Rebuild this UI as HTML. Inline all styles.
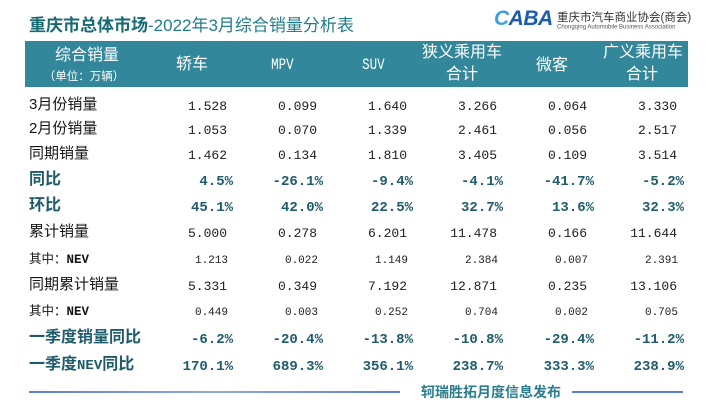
<!DOCTYPE html>
<html><head><meta charset="utf-8">
<style>
html,body{margin:0;padding:0;background:#fff;}
body{width:713px;height:406px;position:relative;overflow:hidden;font-family:"Liberation Sans","Noto Sans CJK SC",sans-serif;}
.a{position:absolute;white-space:nowrap;}
.band{position:absolute;left:25px;top:41px;width:663px;height:46px;background:#33879a;}
.h{position:absolute;color:#fff;font-family:"Liberation Sans","Noto Sans CJK SC",sans-serif;font-size:16px;line-height:20px;height:20px;text-align:center;width:120px;white-space:nowrap;}
.hm{font-family:"Liberation Mono",monospace;font-size:16px;display:inline-block;transform:scaleX(0.78);}
.row{position:absolute;left:0;width:713px;height:20px;}
.lab{position:absolute;left:29px;top:-1px;height:20px;line-height:20px;font-family:"Liberation Sans","Noto Sans CJK SC",sans-serif;font-size:15px;color:#151515;white-space:nowrap;}
.lb{font-size:16px;font-weight:bold;color:#1e5b6b;}
.ls{font-size:12.5px;}
.n{position:absolute;top:1px;height:20px;line-height:20px;font-family:"Liberation Mono",monospace;font-size:13px;color:#202020;white-space:nowrap;}
.p .n{font-size:14px;font-weight:bold;color:#1e5b6b;}
.s .n{font-size:11px;}
.r .c1{right:486px}.r .c2{right:396px}.r .c3{right:306px}.r .c4{right:216px}.r .c5{right:126px}.r .c6{right:36px}
.p .c1{right:480px}.p .c2{right:390px}.p .c3{right:300px}.p .c4{right:210px}.p .c5{right:119px}.p .c6{right:29px}
.s .c1{right:485px}.s .c2{right:395px}.s .c3{right:305px}.s .c4{right:215px}.s .c5{right:125px}.s .c6{right:35px}
.mono{font-family:"Liberation Mono",monospace;font-weight:bold;}
</style></head><body>

<!-- Title -->
<div class="a" style="left:29px;top:14px;height:24px;line-height:24px;font-size:17px;color:#1b6f7a;font-family:'Liberation Sans','Noto Sans CJK SC',sans-serif;"><b style="color:#176a74">重庆市总体市场</b><span style="color:#1f7e8a">-2022年3月综合销量分析表</span></div>

<!-- Logo -->
<div class="a" style="left:494px;top:7px;height:24px;line-height:24px;font-size:21px;font-weight:bold;font-style:italic;font-family:'Liberation Sans',sans-serif;letter-spacing:-0.5px;"><span style="color:#3c9fe0">C</span><span style="color:#1d5cab">ABA</span></div>
<div class="a" style="left:557px;top:11px;height:14px;line-height:14px;font-size:11.5px;color:#333;font-family:'Liberation Sans','Noto Sans CJK SC',sans-serif;">重庆市汽车商业协会(商会)</div>
<div class="a" style="left:557px;top:25px;height:8px;line-height:8px;font-size:10px;color:#555;transform:scale(0.6,0.6);transform-origin:0 0;font-family:'Liberation Sans',sans-serif;">Chongqing Automobile Business Association</div>

<!-- Header band -->
<div class="band"></div>
<div class="h" style="left:27px;top:46px;">综合销量</div>
<div class="h" style="left:24px;top:67px;font-size:11.5px;">（单位：万辆）</div>
<div class="h" style="left:132px;top:55px;">轿车</div>
<div class="h" style="left:222px;top:55px;"><span class="hm">MPV</span></div>
<div class="h" style="left:313px;top:55px;"><span class="hm">SUV</span></div>
<div class="h" style="left:402px;top:43px;">狭义乘用车</div>
<div class="h" style="left:402px;top:65px;">合计</div>
<div class="h" style="left:492px;top:56px;">微客</div>
<div class="h" style="left:583px;top:43px;">广义乘用车</div>
<div class="h" style="left:582px;top:65px;">合计</div>

<!-- Rows -->
<div class="row r" style="top:96px;"><div class="lab">3月份销量</div>
<span class="n c1">1.528</span><span class="n c2">0.099</span><span class="n c3">1.640</span><span class="n c4">3.266</span><span class="n c5">0.064</span><span class="n c6">3.330</span></div>

<div class="row r" style="top:120px;"><div class="lab">2月份销量</div>
<span class="n c1">1.053</span><span class="n c2">0.070</span><span class="n c3">1.339</span><span class="n c4">2.461</span><span class="n c5">0.056</span><span class="n c6">2.517</span></div>

<div class="row r" style="top:145px;"><div class="lab">同期销量</div>
<span class="n c1">1.462</span><span class="n c2">0.134</span><span class="n c3">1.810</span><span class="n c4">3.405</span><span class="n c5">0.109</span><span class="n c6">3.514</span></div>

<div class="row p" style="top:171px;"><div class="lab lb">同比</div>
<span class="n c1">4.5%</span><span class="n c2">-26.1%</span><span class="n c3">-9.4%</span><span class="n c4">-4.1%</span><span class="n c5">-41.7%</span><span class="n c6">-5.2%</span></div>

<div class="row p" style="top:197px;"><div class="lab lb">环比</div>
<span class="n c1">45.1%</span><span class="n c2">42.0%</span><span class="n c3">22.5%</span><span class="n c4">32.7%</span><span class="n c5">13.6%</span><span class="n c6">32.3%</span></div>

<div class="row r" style="top:223px;"><div class="lab">累计销量</div>
<span class="n c1">5.000</span><span class="n c2">0.278</span><span class="n c3">6.201</span><span class="n c4">11.478</span><span class="n c5">0.166</span><span class="n c6">11.644</span></div>

<div class="row s" style="top:250px;"><div class="lab ls">其中：<span class="mono">NEV</span></div>
<span class="n c1">1.213</span><span class="n c2">0.022</span><span class="n c3">1.149</span><span class="n c4">2.384</span><span class="n c5">0.007</span><span class="n c6">2.391</span></div>

<div class="row r" style="top:276px;"><div class="lab">同期累计销量</div>
<span class="n c1">5.331</span><span class="n c2">0.349</span><span class="n c3">7.192</span><span class="n c4">12.871</span><span class="n c5">0.235</span><span class="n c6">13.106</span></div>

<div class="row s" style="top:302px;"><div class="lab ls">其中：<span class="mono">NEV</span></div>
<span class="n c1">0.449</span><span class="n c2">0.003</span><span class="n c3">0.252</span><span class="n c4">0.704</span><span class="n c5">0.002</span><span class="n c6">0.705</span></div>

<div class="row p" style="top:329px;"><div class="lab lb">一季度销量同比</div>
<span class="n c1">-6.2%</span><span class="n c2">-20.4%</span><span class="n c3">-13.8%</span><span class="n c4">-10.8%</span><span class="n c5">-29.4%</span><span class="n c6">-11.2%</span></div>

<div class="row p" style="top:356px;"><div class="lab lb">一季度<span class="mono" style="font-size:14px">NEV</span>同比</div>
<span class="n c1">170.1%</span><span class="n c2">689.3%</span><span class="n c3">356.1%</span><span class="n c4">238.7%</span><span class="n c5">333.3%</span><span class="n c6">238.9%</span></div>

<!-- Footer -->
<div class="a" style="left:29px;top:391px;width:371px;height:2px;background:linear-gradient(to right,#5a84bd,#8eaad4 50%,#5a84bd);"></div>
<div class="a" style="left:572px;top:391px;width:111px;height:2px;background:#5a84bd;"></div>
<div class="a" style="left:421px;top:382px;height:20px;line-height:20px;font-size:14px;font-weight:bold;color:#2b7d8d;font-family:'Liberation Sans','Noto Sans CJK SC',sans-serif;">轲瑞胜拓月度信息发布</div>

</body></html>
